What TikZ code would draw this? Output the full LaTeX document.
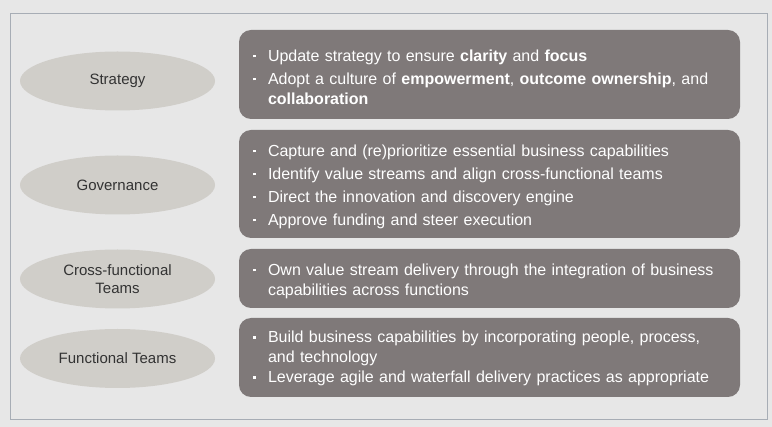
\documentclass[tikz,border=0pt]{standalone}
\usepackage{fontspec}
\setmainfont{Liberation Sans}
\definecolor{bgGray}{HTML}{E7E7E7}
\definecolor{frameGray}{HTML}{A7ADB5}
\definecolor{boxGray}{HTML}{7F7979}
\definecolor{ovalGray}{HTML}{D0CEC9}
\definecolor{ovalText}{HTML}{333333}
% one bullet line with hanging indent
\newcommand{\itm}[1]{\par\noindent\hangindent=15pt\hangafter=1%
  \makebox[15pt][l]{\rule[4pt]{2.6pt}{2.6pt}}#1\par}
\newcommand{\boxfont}[1]{\fontsize{16}{20}\selectfont\hyphenpenalty=10000 \parskip=#1\relax}
\tikzset{
  oval/.style={ellipse, fill=ovalGray, minimum width=195pt, minimum height=59pt,
    inner sep=0pt, align=center, text=ovalText, font=\fontsize{15}{18.5}\selectfont},
  textbox/.style={rectangle, rounded corners=12pt, fill=boxGray, text=white,
    text width=473pt, inner xsep=14pt, inner ysep=0pt, align=left,
    font=\boxfont{3pt}, execute at end node={\par\vspace*{6pt}}},
  tight/.style={font=\boxfont{0pt}}
}
\usetikzlibrary{shapes.geometric}
\begin{document}
\begin{tikzpicture}[x=1pt, y=-1pt]
\fill[bgGray] (0,0) rectangle (772,427);
\useasboundingbox (0,0) rectangle (772,427);
\draw[frameGray, line width=1pt] (10,14) rectangle (767,420);
% left column
\foreach \n/\y/\t in {strat/81/Strategy, gov/185/Governance,
  cross/279/{Cross-functional\\Teams}, func/358.5/Functional Teams}
{
  \node[oval] (\n) at (117.5,\y) {\t};
}
% right column
\node[textbox, minimum height=89pt] (stratBox) at (489.5,74.5) {%
  \itm{Update strategy to ensure \textbf{clarity} and \textbf{focus}}
  \itm{Adopt a culture of \textbf{empowerment}, \textbf{outcome ownership}, and\newline \textbf{collaboration}}};
\node[textbox, minimum height=108pt] (govBox) at (489.5,184) {%
  \itm{Capture and (re)prioritize essential business capabilities}
  \itm{Identify value streams and align cross-functional teams}
  \itm{Direct the innovation and discovery engine}
  \itm{Approve funding and steer execution}};
\node[textbox, minimum height=59pt] (crossBox) at (489.5,278.5) {%
  \itm{Own value stream delivery through the integration of business\newline capabilities across functions}};
\node[textbox, tight, minimum height=79pt] (funcBox) at (489.5,357.5) {%
  \itm{Build business capabilities by incorporating people, process,\newline and technology}
  \itm{Leverage agile and waterfall delivery practices as appropriate}};
\end{tikzpicture}
\end{document}
